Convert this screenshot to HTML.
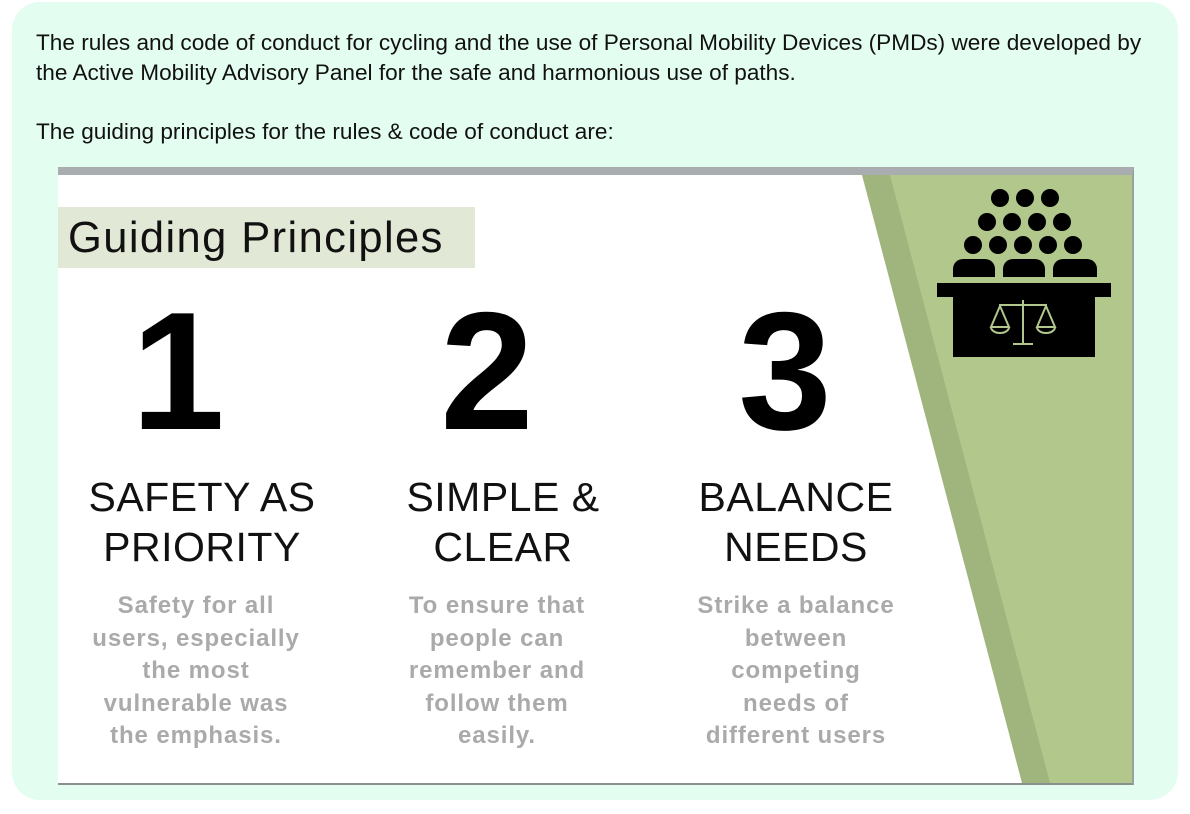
<!DOCTYPE html>
<html><head><meta charset="utf-8"><style>
body{margin:0;width:1190px;height:814px;background:#fff;position:relative;overflow:hidden;font-family:"Liberation Sans",sans-serif}
.box{position:absolute;left:12px;top:2px;width:1166px;height:798px;background:#e3fdf0;border-radius:28px}
.p{position:absolute;left:36px;font-size:22.6px;color:#111;line-height:30px;font-family:"Liberation Sans",sans-serif;white-space:nowrap}
.img{position:absolute;left:58px;top:167px;width:1076px;height:618px;background:#fff;border-top:8px solid #a9adb0;border-bottom:2px solid #8a9090;border-right:2px solid #9a9f9f;box-sizing:border-box;overflow:hidden}
.num{position:absolute;top:287px;font-size:168px;font-weight:bold;color:#000;width:200px;text-align:center;line-height:1}
.h{position:absolute;top:472px;font-size:41px;color:#111;width:320px;text-align:center;line-height:50px;letter-spacing:0.5px}
.d{position:absolute;top:590px;font-size:24px;font-weight:bold;color:#aaaaaa;width:300px;text-align:center;line-height:32.5px;letter-spacing:0.9px}
</style></head><body>
<div class="box"></div>
<div class="p" style="top:28px">The rules and code of conduct for cycling and the use of Personal Mobility Devices (PMDs) were developed by<br>the Active Mobility Advisory Panel for the safe and harmonious use of paths.</div>
<div class="p" style="top:117px">The guiding principles for the rules &amp; code of conduct are:</div>
<div class="img"></div>
<svg style="position:absolute;left:0;top:0" width="1190" height="814">
<polygon points="862,175 1132,175 1132,783 1022,783" fill="#a0b57d"/>
<polygon points="890,175 1132,175 1132,783 1050,783" fill="#b2c78c"/>
<g fill="#000">
<circle cx="1000" cy="198" r="9"/><circle cx="1025" cy="198" r="9"/><circle cx="1050" cy="198" r="9"/>
<circle cx="987" cy="222" r="9"/><circle cx="1012" cy="222" r="9"/><circle cx="1037" cy="222" r="9"/><circle cx="1062" cy="222" r="9"/>
<circle cx="973" cy="245" r="9"/><circle cx="998" cy="245" r="9"/><circle cx="1023" cy="245" r="9"/><circle cx="1048" cy="245" r="9"/><circle cx="1073" cy="245" r="9"/>
<path d="M953,277 v-8 a10,10 0 0 1 10,-10 h22 a10,10 0 0 1 10,10 v8z"/>
<path d="M1003,277 v-8 a10,10 0 0 1 10,-10 h22 a10,10 0 0 1 10,10 v8z"/>
<path d="M1053,277 v-8 a10,10 0 0 1 10,-10 h24 a10,10 0 0 1 10,10 v8z"/>
<rect x="937" y="283" width="174" height="14"/>
<rect x="953" y="297" width="142" height="60"/>
</g>
<g stroke="#b2c78c" stroke-width="2" fill="none">
<line x1="1023" y1="300" x2="1023" y2="344"/><line x1="1013" y1="344" x2="1033" y2="344"/>
<line x1="999" y1="305" x2="1047" y2="305"/>
<path d="M1000,306 L991,327 H1009Z M991,327 a9,6 0 0 0 18,0"/>
<path d="M1046,306 L1037,327 H1055Z M1037,327 a9,6 0 0 0 18,0"/>
</g>
</svg>
<div style="position:absolute;left:58px;top:207px;width:417px;height:61px;background:#e2e8d6"></div>
<div style="position:absolute;left:68px;top:214px;font-size:43.5px;color:#111;letter-spacing:1.4px;white-space:nowrap">Guiding Principles</div>
<div class="num" style="left:78px">1</div>
<div class="num" style="left:387px">2</div>
<div class="num" style="left:685px">3</div>
<div class="h" style="left:42px">SAFETY AS<br>PRIORITY</div>
<div class="h" style="left:343px">SIMPLE &amp;<br>CLEAR</div>
<div class="h" style="left:636px">BALANCE<br>NEEDS</div>
<div class="d" style="left:46px">Safety for all<br>users, especially<br>the most<br>vulnerable was<br>the emphasis.</div>
<div class="d" style="left:347px">To ensure that<br>people can<br>remember and<br>follow them<br>easily.</div>
<div class="d" style="left:646px">Strike a balance<br>between<br>competing<br>needs of<br>different users</div>
</body></html>
